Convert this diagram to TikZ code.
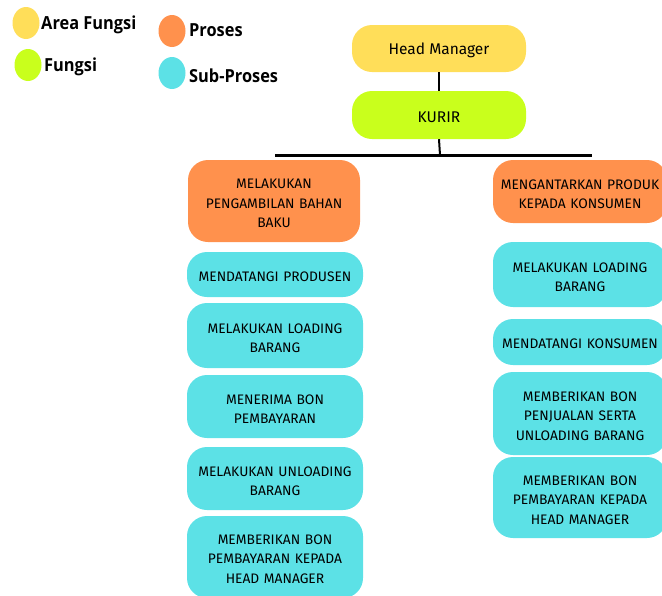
\documentclass[tikz,border=0pt]{standalone}
\usepackage{fontspec}
\setmainfont{Fira Sans}
\newfontfamily\legendfont{Open Sans}
\definecolor{cyel}{HTML}{FFDE59}
\definecolor{cgrn}{HTML}{C9FF1C}
\definecolor{corg}{HTML}{FF914D}
\definecolor{ccyn}{HTML}{5CE1E6}
\tikzset{
  box/.style={rounded corners=20pt, inner sep=0pt},
  btxt/.style={inner sep=0pt, align=center, text=black, text width=172pt,
    font=\fontsize{13.8}{19.5}\selectfont},
  ttxt/.style={inner sep=0pt, text=black, font=\fontsize{15.5}{18}\selectfont},
  legdot/.style={ellipse, inner sep=0pt, minimum width=27pt, minimum height=32pt},
  legtxt/.style={anchor=west, inner sep=0pt, font=\legendfont\bfseries\fontsize{18}{20}\selectfont},
  conn/.style={line width=2pt, black},
}
\usetikzlibrary{shapes.geometric}
\begin{document}
\begin{tikzpicture}[x=1pt,y=-1pt]
\useasboundingbox (0,0) rectangle (662,595);
\clip (0,0) rectangle (662,595);
% legend
\node[legdot, fill=cyel] (ly) at (26,23) {};
\node[legtxt] (lyt) at (41,24.5) {\scalebox{0.91}[1]{Area Fungsi}};
\node[legdot, fill=cgrn] (lg) at (28,65) {};
\node[legtxt] (lgt) at (44,66.5) {\scalebox{0.91}[1]{Fungsi}};
\node[legdot, fill=corg] (lo) at (172,31) {};
\node[legtxt] (lot) at (189,30.5) {\scalebox{0.91}[1]{Proses}};
\node[legdot, fill=ccyn] (lc) at (172,73) {};
\node[legtxt] (lct) at (189,75.5) {\scalebox{0.91}[1]{Sub-Proses}};
% top
\node[box, fill=cyel, minimum width=174pt, minimum height=47pt] (head) at (439,48.5) {};
\node[ttxt] (headt) at ([yshift=-2pt]head.center) {Head Manager};
\node[box, fill=cgrn, minimum width=174pt, minimum height=48pt] (kurir) at (439,115) {};
\node[ttxt] (kurirt) at ([yshift=-2pt]kurir.center) {KURIR};
\coordinate (bar) at (440,155);
\coordinate (barL) at (275,155);
\coordinate (barR) at (592,155);
\draw[conn] (head.south) -- (kurir.north);
\draw[conn] (kurir.south) -- (bar);
\draw[line width=3pt] (barL) -- (barR);
% left column
\node[box, fill=corg, minimum width=172pt, minimum height=82pt] (lp) at (274,201) {};
\node[btxt] (lpt) at ([yshift=-2.5pt]lp.center) {MELAKUKAN\\PENGAMBILAN BAHAN\\BAKU};
\node[box, fill=ccyn, minimum width=176pt, minimum height=45pt] (l1) at (275,274.5) {};
\node[btxt] (l1t) at ([yshift=-2pt]l1.center) {MENDATANGI PRODUSEN};
\node[box, fill=ccyn, minimum width=176pt, minimum height=65pt] (l2) at (275,335.5) {};
\node[btxt] (l2t) at ([yshift=-2.5pt]l2.center) {MELAKUKAN LOADING\\BARANG};
\node[box, fill=ccyn, minimum width=176pt, minimum height=63pt] (l3) at (275,406.5) {};
\node[btxt] (l3t) at ([yshift=-2.5pt]l3.center) {MENERIMA BON\\PEMBAYARAN};
\node[box, fill=ccyn, minimum width=176pt, minimum height=63pt] (l4) at (275,478.5) {};
\node[btxt] (l4t) at ([yshift=-2.5pt]l4.center) {MELAKUKAN UNLOADING\\BARANG};
\node[box, fill=ccyn, minimum width=176pt, minimum height=82pt] (l5) at (275,557) {};
\node[btxt] (l5t) at ([yshift=-2pt]l5.center) {MEMBERIKAN BON\\PEMBAYARAN KEPADA\\HEAD MANAGER};
% right column
\node[box, fill=corg, minimum width=174pt, minimum height=63pt] (rp) at (580,191.5) {};
\node[btxt] (rpt) at ([yshift=-2.5pt]rp.center) {MENGANTARKAN PRODUK\\KEPADA KONSUMEN};
\node[box, fill=ccyn, minimum width=174pt, minimum height=65pt] (r1) at (580,274.5) {};
\node[btxt] (r1t) at ([yshift=-2.5pt]r1.center) {MELAKUKAN LOADING\\BARANG};
\node[box, fill=ccyn, minimum width=174pt, minimum height=46pt] (r2) at (580,342) {};
\node[btxt] (r2t) at ([yshift=-2pt]r2.center) {MENDATANGI KONSUMEN};
\node[box, fill=ccyn, minimum width=174pt, minimum height=83pt] (r3) at (580,413.5) {};
\node[btxt] (r3t) at ([yshift=-2.5pt]r3.center) {MEMBERIKAN BON\\PENJUALAN SERTA\\UNLOADING BARANG};
\node[box, fill=ccyn, minimum width=174pt, minimum height=81pt] (r4) at (580,497.5) {};
\node[btxt] (r4t) at ([yshift=-2.5pt]r4.center) {MEMBERIKAN BON\\PEMBAYARAN KEPADA\\HEAD MANAGER};
\end{tikzpicture}
\end{document}
